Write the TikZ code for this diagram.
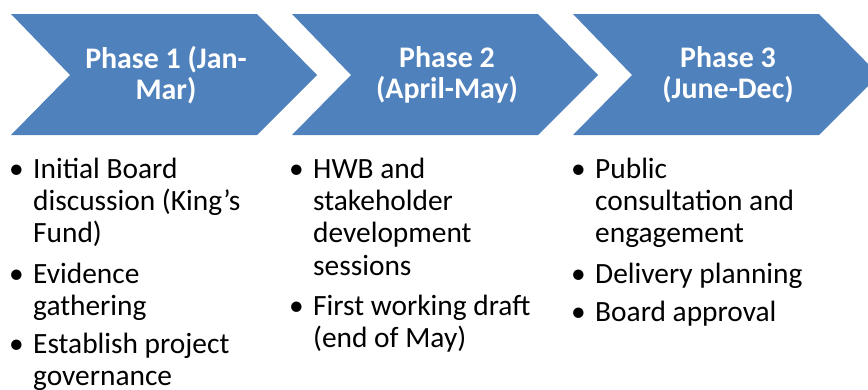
\documentclass[tikz,border=0pt]{standalone}
\usepackage{fontspec}
\setmainfont{Carlito}
\definecolor{chev}{HTML}{4F81BD}
\newcommand{\itemlines}[1]{\begin{tabular}[t]{@{}l@{}}#1\end{tabular}}
\begin{document}
\begin{tikzpicture}[x=1bp,y=-1bp,
  chevshape/.style={fill=chev,draw=none},
  headtxt/.style={text=white,font=\bfseries\fontsize{30}{31}\selectfont,align=center,inner sep=0pt},
  bultxt/.style={anchor=base west,inner sep=0pt,font=\fontsize{29.5}{32.5}\selectfont},
  bulmark/.style={anchor=base west,inner sep=0pt,font=\fontsize{29.5}{32.5}\selectfont}]
\useasboundingbox (0,0) rectangle (868,389);
\begin{scope}
\clip (0,0) rectangle (868,389);
\foreach \i/\x in {1/11,2/292,3/573}{
  \fill[chevshape] (\x,14) -- (\x+246,14) -- (\x+306,75) -- (\x+246,135) -- (\x,135) -- (\x+59,75) -- cycle;
}
\end{scope}
\node[headtxt] (h1) at (166,75) {Phase 1 (Jan-\\Mar)};
\node[headtxt] (h2) at (447,75) {Phase 2\\(April-May)};
\node[headtxt] (h3) at (728,75) {Phase 3\\(June-Dec)};
% column 1
\node[bulmark] (b11) at (9,178) {•};
\node[bultxt] (t11) at (33,178) {\itemlines{Initial Board\\discussion (King’s\\Fund)}};
\node[bulmark] (b12) at (9,283) {•};
\node[bultxt] (t12) at (33,283) {\itemlines{Evidence\\gathering}};
\node[bulmark] (b13) at (9,353) {•};
\node[bultxt] (t13) at (33,353) {\itemlines{Establish project\\governance}};
% column 2
\node[bulmark] (b21) at (289,178) {•};
\node[bultxt] (t21) at (313,178) {\itemlines{HWB and\\stakeholder\\development\\sessions}};
\node[bulmark] (b22) at (289,315) {•};
\node[bultxt] (t22) at (313,315) {\itemlines{First working draft\\(end of May)}};
% column 3
\node[bulmark] (b31) at (571,178) {•};
\node[bultxt] (t31) at (595,178) {\itemlines{Public\\consultation and\\engagement}};
\node[bulmark] (b32) at (571,283) {•};
\node[bultxt] (t32) at (595,283) {\itemlines{Delivery planning}};
\node[bulmark] (b33) at (571,321) {•};
\node[bultxt] (t33) at (595,321) {\itemlines{Board approval}};
\end{tikzpicture}
\end{document}
